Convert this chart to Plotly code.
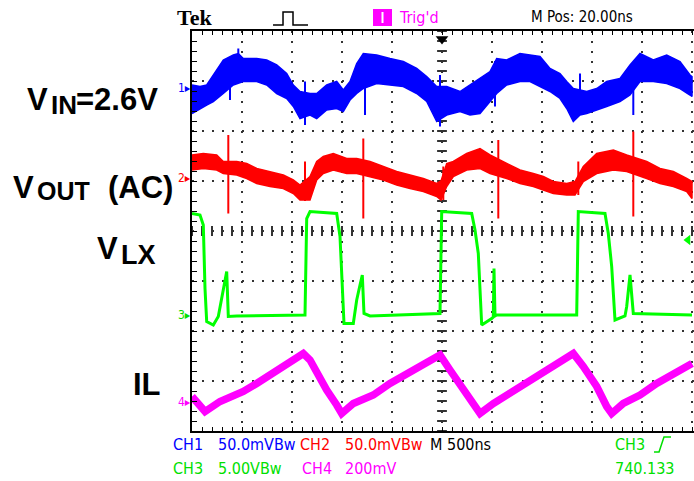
import plotly.graph_objects as go

# ---------------- data (time in ns, amplitude in screen divisions) ----------------
BLUE_T = [0, 80, 147, 213, 313, 413, 463, 513, 647, 747, 847, 947, 1013, 1080, 1180, 1247,
          1347, 1447, 1513, 1580, 1647, 1713, 1847, 1980, 2113, 2247, 2347, 2447, 2547, 2680,
          2780, 2880, 2980, 3047, 3147, 3280, 3380, 3480, 3580, 3680, 3747, 3813, 3880, 3947,
          4047, 4147, 4280, 4380, 4480, 4613, 4747, 4880, 4980, 5000]
BLUE_HI = [2.92, 2.89, 2.92, 3.12, 3.42, 3.52, 3.55, 3.45, 3.45, 3.42, 3.32, 3.15, 2.92, 2.79,
           2.75, 2.75, 2.92, 2.99, 2.82, 2.99, 3.35, 3.55, 3.52, 3.45, 3.39, 3.25, 3.09, 2.89,
           2.89, 2.79, 2.92, 3.05, 3.19, 3.45, 3.42, 3.55, 3.52, 3.49, 3.25, 3.15, 2.99, 2.85,
           2.82, 2.79, 2.85, 2.99, 3.05, 3.32, 3.55, 3.42, 3.52, 3.39, 3.12, 3.09]
BLUE_LO = [2.35, 2.45, 2.52, 2.59, 2.75, 2.92, 2.95, 2.99, 2.99, 2.92, 2.75, 2.65, 2.49, 2.25,
           2.32, 2.25, 2.42, 2.45, 2.39, 2.62, 2.75, 2.85, 2.95, 2.92, 2.89, 2.75, 2.59, 2.19,
           2.32, 2.39, 2.32, 2.35, 2.59, 2.75, 2.92, 2.99, 2.99, 2.89, 2.79, 2.65, 2.45, 2.19,
           2.32, 2.35, 2.42, 2.49, 2.59, 2.72, 2.99, 2.99, 2.95, 2.85, 2.72, 2.69]
BLUE_SPIKE_T = [380, 463, 1130, 1730, 2480, 3030, 3880, 4413]
BLUE_SPIKE_HI = [3.30, 3.65, 2.99, 3.30, 3.12, 3.40, 3.15, 3.20]
BLUE_SPIKE_LO = [2.62, 3.20, 2.12, 2.32, 2.09, 2.49, 2.60, 2.32]

RED_T = [0, 113, 247, 313, 447, 547, 647, 780, 913, 1013, 1080, 1180, 1247, 1313, 1413, 1547,
         1647, 1780, 1913, 2047, 2180, 2313, 2447, 2490, 2547, 2613, 2747, 2880, 2980, 3147,
         3280, 3413, 3513, 3613, 3747, 3830, 3913, 4047, 4213, 4347, 4547, 4680, 4813, 4947, 5000]
RED_HI = [1.52, 1.55, 1.52, 1.39, 1.39, 1.35, 1.25, 1.19, 1.12, 1.02, 0.92, 1.09, 1.39, 1.49,
          1.55, 1.45, 1.45, 1.39, 1.29, 1.19, 1.12, 1.05, 0.95, 1.00, 1.35, 1.39, 1.55, 1.65,
          1.52, 1.35, 1.22, 1.15, 1.09, 0.99, 0.95, 0.99, 1.29, 1.55, 1.62, 1.52, 1.39, 1.25,
          1.19, 1.05, 0.99]
RED_LO = [1.22, 1.25, 1.22, 1.15, 1.12, 1.05, 0.95, 0.89, 0.85, 0.75, 0.62, 0.62, 1.02, 1.15,
          1.22, 1.15, 1.15, 1.09, 1.02, 0.92, 0.85, 0.79, 0.69, 0.62, 0.89, 1.09, 1.22, 1.25,
          1.15, 1.05, 0.95, 0.89, 0.82, 0.75, 0.72, 0.72, 0.99, 1.15, 1.22, 1.19, 1.05, 0.95,
          0.89, 0.79, 0.65]
RED_SPIKE_T = [363, 1130, 1713, 2513, 3063, 3863, 4413]
RED_SPIKE_HI = [1.92, 1.39, 1.85, 1.29, 1.82, 1.39, 1.99]
RED_SPIKE_LO = [0.35, 0.60, 0.25, 0.62, 0.25, 0.72, 0.29]

GREEN_T = [0, 80, 113, 130, 147, 213, 263, 297, 330, 347, 363, 447, 1130, 1147, 1180, 1447,
           1480, 1507, 1520, 1613, 1647, 1680, 1703, 1720, 1780, 2480, 2497, 2797, 2830, 2863,
           2880, 2897, 2997, 3013, 3020, 3030, 3047, 3847, 3863, 4130, 4163, 4197, 4230, 4330,
           4347, 4380, 4413, 5000]
GREEN_V = [0.35, 0.32, 0.12, -1.15, -1.81, -1.88, -1.71, -1.31, -0.98, -0.81, -1.71, -1.70,
           -1.68, 0.25, 0.39, 0.35, -0.11, -1.11, -1.85, -1.85, -1.38, -1.08, -0.88, -1.65,
           -1.70, -1.65, 0.39, 0.35, 0.02, -0.45, -1.18, -1.88, -1.75, -1.72, -0.75, -1.70,
           -1.68, -1.68, 0.39, 0.35, -0.05, -0.71, -1.78, -1.70, -1.51, -0.88, -1.65, -1.68]

MAG_T = [0, 47, 130, 280, 413, 513, 647, 813, 980, 1113, 1180, 1247, 1347, 1447, 1497, 1613,
         1813, 1980, 2147, 2313, 2480, 2580, 2713, 2813, 2880, 3013, 3180, 3347, 3513, 3680,
         3813, 3913, 4047, 4147, 4197, 4313, 4480, 4647, 4813, 5000]
MAG_V = [-3.31, -3.41, -3.61, -3.41, -3.31, -3.21, -3.05, -2.85, -2.61, -2.45, -2.58, -2.85,
         -3.18, -3.48, -3.65, -3.45, -3.28, -3.05, -2.85, -2.68, -2.48, -2.78, -3.18, -3.48,
         -3.65, -3.45, -3.25, -3.05, -2.85, -2.61, -2.45, -2.71, -3.11, -3.51, -3.65, -3.45,
         -3.28, -3.05, -2.88, -2.65]

CH_MARK_LABELS = ["1", "2", "3", "4"]
CH_MARK_LEVEL = [2.86, 1.06, -1.68, -3.42]

# ---------------- styling ----------------
W, H = 694, 481
ML, MR, MT, MB = 192, 0, 31, 50
BLUE, RED, GREEN, MAG = "#0000FF", "#FF0000", "#00FF00", "#FF00FF"
GTEXT = "#00E000"
SMALL = "DejaVu Sans Condensed, Liberation Sans Narrow, sans-serif"
BIG = "Liberation Sans, Arial, sans-serif"


def pxx(x):
    return (x - ML) / (W - ML - MR)


def pxy(y):
    return (H - MB - y) / (H - MT - MB)


def spikes(t, hi, lo):
    xs, ys = [], []
    for a, b, c in zip(t, hi, lo):
        xs += [a, a, None]
        ys += [b, c, None]
    return xs, ys


fig = go.Figure()

# center-line tick marks (scope graticule)
fig.add_trace(go.Scatter(x=[i * 100 for i in range(51)], y=[0] * 51, mode="markers",
                         marker=dict(symbol="line-ns", size=7, line=dict(color="#333", width=2)),
                         hoverinfo="skip", showlegend=False))
fig.add_trace(go.Scatter(x=[2500] * 41, y=[-4 + i * 0.2 for i in range(41)], mode="markers",
                         marker=dict(symbol="line-ew", size=7, line=dict(color="#333", width=2)),
                         hoverinfo="skip", showlegend=False))


def band(t, hi, lo, color):
    fig.add_trace(go.Scatter(x=list(t) + list(t)[::-1], y=list(hi) + list(lo)[::-1],
                             fill="toself", fillcolor=color, mode="lines",
                             line=dict(color=color, width=1.5), hoverinfo="skip", showlegend=False))


band(BLUE_T, BLUE_HI, BLUE_LO, BLUE)
sx, sy = spikes(BLUE_SPIKE_T, BLUE_SPIKE_HI, BLUE_SPIKE_LO)
fig.add_trace(go.Scatter(x=sx, y=sy, mode="lines", line=dict(color=BLUE, width=2),
                         hoverinfo="skip", showlegend=False))

band(RED_T, RED_HI, RED_LO, RED)
sx, sy = spikes(RED_SPIKE_T, RED_SPIKE_HI, RED_SPIKE_LO)
fig.add_trace(go.Scatter(x=sx, y=sy, mode="lines", line=dict(color=RED, width=2),
                         hoverinfo="skip", showlegend=False))

fig.add_trace(go.Scatter(x=GREEN_T, y=GREEN_V, mode="lines", line=dict(color=GREEN, width=3),
                         hoverinfo="skip", showlegend=False))
fig.add_trace(go.Scatter(x=MAG_T, y=MAG_V, mode="lines", line=dict(color=MAG, width=7.5),
                         hoverinfo="skip", showlegend=False))

# trigger position arrow (top) and CH3 trigger level arrow (right)
fig.add_trace(go.Scatter(x=[2500], y=[3.84], mode="markers", cliponaxis=False,
                         marker=dict(symbol="triangle-down", size=11, color="black"),
                         hoverinfo="skip", showlegend=False))
fig.add_trace(go.Scatter(x=[4960], y=[-0.18], mode="markers", cliponaxis=False,
                         marker=dict(symbol="triangle-left", size=9, color=GREEN),
                         hoverinfo="skip", showlegend=False))

ann = []


def text(s, x, y, size, color="black", family=SMALL, anchor="left", bold=False):
    if bold:
        s = "<b>" + s + "</b>"
    ann.append(dict(text=s, x=pxx(x), y=pxy(y), xref="paper", yref="paper",
                    xanchor=anchor, yanchor="middle", showarrow=False,
                    font=dict(size=size, color=color, family=family)))


# channel ground markers
for lab, lvl, col in zip(CH_MARK_LABELS, CH_MARK_LEVEL, [BLUE, RED, GTEXT, MAG]):
    text(lab + "▸", 193, 231 - lvl * 50, 12, col, anchor="right")

# left signal labels
text("V", 25, 99, 31, family=BIG, bold=True)
text("IN", 49, 105, 26, family=BIG, bold=True)
text("=2.6V", 74, 99, 31, family=BIG, bold=True)
text("V", 11, 187, 31, family=BIG, bold=True)
text("OUT", 35, 191, 25, family=BIG, bold=True)
text("(AC)", 106, 187, 31, family=BIG, bold=True)
text("V", 95, 248, 31, family=BIG, bold=True)
text("LX", 119, 255, 27, family=BIG, bold=True)
text("IL", 131, 384, 31, family=BIG, bold=True)

# top status line
text("Tek", 175, 17, 22, family="Liberation Serif, serif", bold=True)
text("Trig'd", 397, 17, 16, MAG)
text("M Pos: 20.00ns", 529, 17, 15)

# bottom status lines
text("CH1", 171, 444, 16, BLUE)
text("50.0mVBw", 216, 444, 16, BLUE)
text("CH2", 298, 444, 16, RED)
text("50.0mVBw", 343, 444, 16, RED)
text("M 500ns", 428, 444, 16)
text("CH3", 613, 444, 16, GTEXT)
text("CH3", 171, 468, 16, GTEXT)
text("5.00VBw", 216, 468, 16, GTEXT)
text("CH4", 300, 468, 16, MAG)
text("200mV", 343, 468, 16, MAG)
text("740.133", 613, 468, 16, GTEXT)


def path(points):
    return "M " + " L ".join(f"{pxx(a):.4f},{pxy(b):.4f}" for a, b in points)


shapes = [
    dict(type="path", xref="paper", yref="paper",
         path=path([(273, 25), (283, 25), (283, 12), (293, 12), (293, 25), (308, 25)]),
         line=dict(color="black", width=1.5)),
    dict(type="rect", xref="paper", yref="paper", x0=pxx(373), x1=pxx(392), y0=pxy(26), y1=pxy(9),
         fillcolor=MAG, line=dict(width=0)),
    dict(type="line", xref="paper", yref="paper", x0=pxx(382.5), x1=pxx(382.5), y0=pxy(23), y1=pxy(12),
         line=dict(color="white", width=2)),
    dict(type="path", xref="paper", yref="paper",
         path=path([(654, 452), (659, 452), (664, 437), (671, 437)]),
         line=dict(color=GTEXT, width=1.5)),
]

fig.update_layout(
    width=W, height=H, margin=dict(l=ML, r=MR, t=MT, b=MB, pad=0),
    paper_bgcolor="white", plot_bgcolor="white", showlegend=False,
    annotations=ann, shapes=shapes,
    xaxis=dict(range=[0, 5020], tick0=0, dtick=500, showticklabels=False, zeroline=False,
               showgrid=True, gridcolor="#333", gridwidth=2, griddash="2px,8px",
               showline=True, linecolor="black", linewidth=2, mirror="allticks",
               ticks="inside", ticklen=4, tickcolor="black", tickwidth=1,
               minor=dict(dtick=100, tick0=0, ticks="inside", ticklen=4, tickcolor="black",
                          tickwidth=1, showgrid=False), fixedrange=True),
    yaxis=dict(range=[-4, 4], tick0=0, dtick=1, showticklabels=False, zeroline=False,
               showgrid=True, gridcolor="#333", gridwidth=2, griddash="2px,8px",
               showline=True, linecolor="black", linewidth=2,
               ticks="inside", ticklen=5, tickcolor="black", tickwidth=1,
               minor=dict(dtick=0.2, tick0=0, ticks="inside", ticklen=5, tickcolor="black",
                          tickwidth=1, showgrid=False), fixedrange=True),
)

fig.write_html("out.html", config={"displayModeBar": False},
               post_script="document.body.style.margin='0';document.body.style.overflow='hidden';")
